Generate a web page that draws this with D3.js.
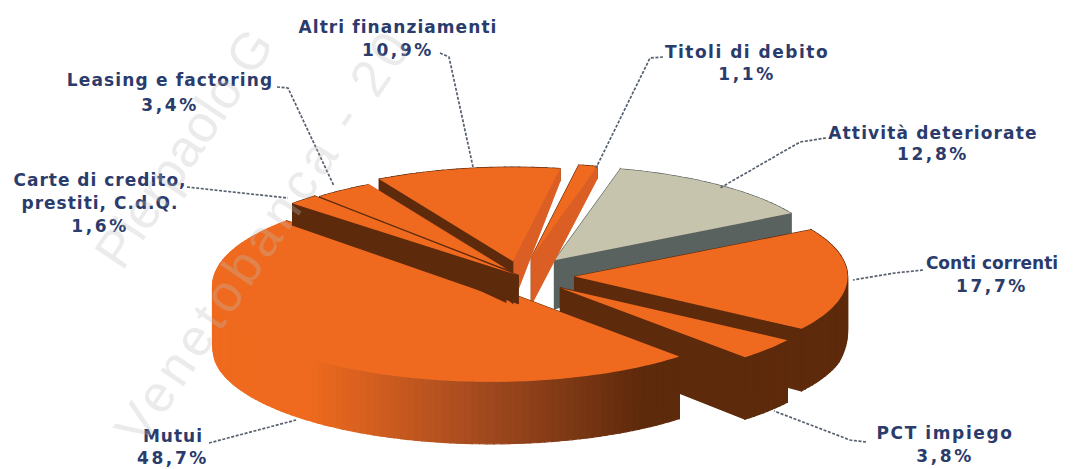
<!DOCTYPE html>
<html>
<head>
<meta charset="utf-8">
<script src="https://cdn.jsdelivr.net/npm/d3@7"></script>
<style>
html,body{margin:0;padding:0;background:#fff}
svg{display:block}
text{font-family:"DejaVu Sans",Verdana,sans-serif;font-weight:700;font-size:17px;fill:#2a3b6c;text-anchor:middle}
text.mark{font-family:"Liberation Sans",Arial,sans-serif;font-weight:400;font-size:52px;fill:#bdbdbd;fill-opacity:.3;text-anchor:start}
</style>
</head>
<body>
<svg id="chart" width="1074" height="469"></svg>
<script>
// Composition of the loan book, clockwise from the top of the pie
const categories = ["Titoli di debito","Attività deteriorate","Conti correnti","PCT impiego","Mutui","Carte di credito, prestiti, C.d.Q.","Leasing e factoring","Altri finanziamenti"];
const shares = [1.1,12.8,17.7,3.8,48.7,1.6,3.4,10.9];
const shareLabels = ["1,1%","12,8%","17,7%","3,8%","48,7%","1,6%","3,4%","10,9%"];

// How far each slice is pulled out, and how much it swells under the perspective
const explode = [0.20,0.21,0.20,0.195,0.15,0.01,0.09,0.16];
const swell = [1,1,1,1,1.02,1.125,1.03,1];

// Tallest wall each slice may show: the far-left slices stay shallow
const wallCap = [60,60,70,70,70,28,33,42];

// Back-to-front painting sequence, by index into categories
const paintOrder = [1,0,2,3,4,7,6,5];

const labelLines = [
  ["Titoli di debito"],["Attività deteriorate"],["Conti correnti"],["PCT impiego"],
  ["Mutui"],["Carte di credito,","prestiti, C.d.Q."],["Leasing e factoring"],["Altri finanziamenti"]
];
const labelAnchors = [[747,58],[933,139],[992,269],[945,439],[173,442],[100,186],[170,86],[398,33]];
const labelSteps = [22,21,23,23,22,23,25,23];
const labelTracking = [1.5,1.15,0,1.6,1,1,1.15,1.07];
const leaders = [
  [[663,57],[650,58],[596,168]],
  [[826,138],[800,142],[720,188]],
  [[923,270],[895,273],[853,280]],
  [[866,442],[850,440],[774,411]],
  [[209,443],[296,420]],
  [[187,187],[288,198]],
  [[277,87],[288,88],[334,186]],
  [[440,53],[449,57],[473,167]]
];

const center = {x:520,y:276}, rx = 273, ry = 94;
const topColor = ["#ef6a1e","#c7c4ae","#ef6a1e","#ef6a1e","#ef6a1e","#ef6a1e","#ef6a1e","#ef6a1e"];
const sideColor = ["#5e2a0c","#59625f","#5e2a0c","#5e2a0c","#5e2a0c","#5e2a0c","#5e2a0c","#5e2a0c"];
const litColor = "#db5f24";

const svg = d3.select("#chart");

// Unit-circle coordinates mapped onto the tilted ellipse
const px = d3.scaleLinear().domain([-1,1]).range([center.x-rx,center.x+rx]);
const py = d3.scaleLinear().domain([-1,1]).range([center.y-ry,center.y+ry]);

// Perspective: the wall gets taller towards the viewer
const wall = d3.scaleLinear().domain([170,205,217,262,300]).range([12,22,18,50,62]).clamp(true);

// Cylinder wall of the large slice runs from bright to shadow, left to right
const rimShade = d3.scaleLinear().domain([310,470,640]).range(["#ef6a1e","#a84c20","#5e2a0c"]).clamp(true);

const arcs = d3.pie().sort(null).value(d=>d)
  .startAngle(10*Math.PI/180).endAngle(370*Math.PI/180)(shares);

const line = d3.line();

function point(theta,i,r){
  const mid = (arcs[i].startAngle+arcs[i].endAngle)/2-Math.PI/2;
  const ux = explode[i]*Math.cos(mid)+r*swell[i]*Math.cos(theta);
  const uy = explode[i]*Math.sin(mid)+r*swell[i]*Math.sin(theta);
  return [px(ux),py(uy)];
}

paintOrder.forEach(i=>{
  const a0 = arcs[i].startAngle-Math.PI/2, a1 = arcs[i].endAngle-Math.PI/2;
  const g = svg.append("g").attr("class","slice");
  const apex = point(0,i,0);
  const steps = Math.max(4,Math.ceil((a1-a0)/(Math.PI/120)));
  const rim = d3.range(steps+1).map(k=>point(a0+(a1-a0)*k/steps,i,1));
  const bottom = p => [p[0], p[1]+Math.min(wall(p[1]),wallCap[i])];

  // Wall pieces, one quad per outline edge, back ones first
  const faces = [];
  const isLit = theta => Math.abs(Math.atan2(Math.sin(theta),Math.cos(theta)))<Math.PI/6;
  faces.push({a:apex,b:rim[0],color:isLit(a0-Math.PI/2)&&i!==1?litColor:sideColor[i]});
  faces.push({a:rim[steps],b:apex,color:isLit(a1+Math.PI/2)&&i!==1?litColor:sideColor[i]});
  for(let k=0;k<steps;k++){
    const mx=(rim[k][0]+rim[k+1][0])/2;
    faces.push({a:rim[k],b:rim[k+1],color:i===4?rimShade(mx):sideColor[i]});
  }
  faces.sort((p,q)=>(p.a[1]+p.b[1])-(q.a[1]+q.b[1]));
  g.selectAll("path.wall").data(faces).join("path").attr("class","wall")
    .attr("d",f=>line([f.a,f.b,bottom(f.b),bottom(f.a)])+"Z")
    .attr("fill",f=>f.color).attr("stroke",f=>f.color).attr("stroke-width",1.2);

  g.append("path").attr("class","top")
    .attr("d",line([apex,...rim])+"Z")
    .attr("fill",topColor[i]);
});

// Dashed leaders from the labels to the slices
svg.append("g").selectAll("path").data(leaders).join("path")
  .attr("d",d=>line(d)).attr("fill","none")
  .attr("stroke","#56606e").attr("stroke-width",1.7).attr("stroke-dasharray","3 1.6");

// Two-part labels: the category, then its share
const labels = svg.append("g").selectAll("g").data(categories).join("g");
labels.each(function(_,i){
  const n = labelLines[i].length;
  const lines = labelLines[i].concat(shareLabels[i]);
  d3.select(this).selectAll("text").data(lines).join("text")
    .attr("x",labelAnchors[i][0])
    .attr("y",(_,k)=>labelAnchors[i][1]+k*labelSteps[i])
    .style("letter-spacing",(_,k)=>(k===n?2.6:labelTracking[i])+"px")
    .text(d=>d);
});

// Diagonal ownership marks across the page
svg.append("text").attr("class","mark")
  .attr("transform","translate(122,272) rotate(-56)").text("Pierpaolo G");
svg.append("text").attr("class","mark").style("letter-spacing","5px")
  .attr("transform","translate(142,448) rotate(-56)").text("Venetobanca - 20");
</script>
</body>
</html>
